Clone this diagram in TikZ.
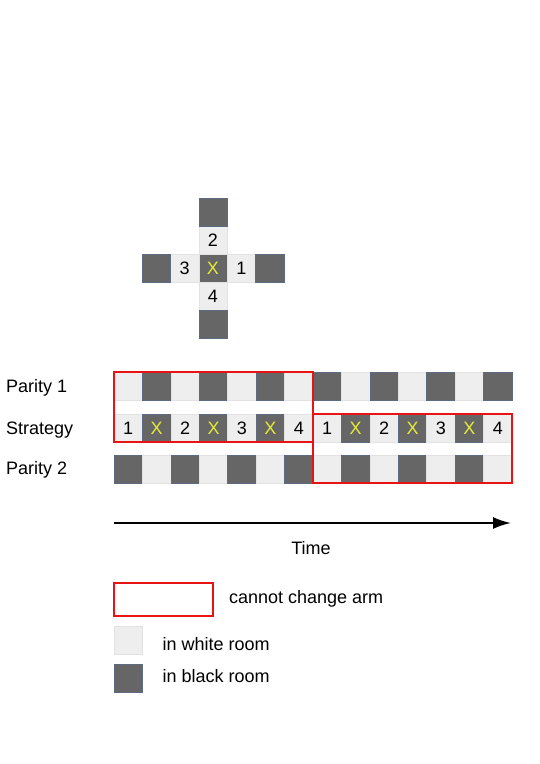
\documentclass[tikz,border=0pt]{standalone}
\usepackage{fontspec}
\setmainfont{Liberation Sans}
\usetikzlibrary{arrows.meta,positioning,fit}

\definecolor{roomdark}{HTML}{666666}
\definecolor{roomedge}{HTML}{5E6A82}
\definecolor{roomwhite}{HTML}{EEEEEE}
\definecolor{whiteedge}{HTML}{E2E2E2}
\definecolor{xyellow}{RGB}{228,236,52}
\definecolor{lockred}{RGB}{232,20,20}

\begin{document}
\begin{tikzpicture}[
  x=1pt, y=-1pt,
  font=\fontsize{18}{21}\selectfont,
  wcell/.style={draw=whiteedge, fill=roomwhite, minimum width=28.4pt, minimum height=28pt, inner sep=0pt, outer sep=0pt, line width=0.6pt},
  dcell/.style={draw=roomedge, fill=roomdark, minimum width=28.4pt, minimum height=28pt, inner sep=0pt, outer sep=0pt, line width=0.6pt},
  xmark/.style={text=xyellow},
  lock/.style={draw=lockred, line width=2pt, inner sep=0pt},
  rowname/.style={anchor=west},
  timearrow/.style={-{Latex[length=18pt,width=12pt]}, line width=2pt}
]
\useasboundingbox (0,0) rectangle (540,764);

% the cross of arms round the start room
\node[dcell, xmark] (hub) at (213,268) {X};
\node[wcell, above=0pt of hub] (arm2) {2};
\node[dcell, above=0pt of arm2] (top) {};
\node[wcell, below=0pt of hub] (arm4) {4};
\node[dcell, below=0pt of arm4] (bottom) {};
\node[wcell, left=0pt of hub] (arm3) {3};
\node[dcell, left=0pt of arm3] (leftend) {};
\node[wcell, right=0pt of hub] (arm1) {1};
\node[dcell, right=0pt of arm1] (rightend) {};

% rows
\node[rowname] (par1) at (2.5,388) {Parity 1};
\node[rowname] (strat) at (2.5,430) {Strategy};
\node[rowname] (par2) at (2.5,470) {Parity 2};

\foreach \i [evaluate=\i as \cx using 114+28.43*(\i-0.5)] in {1,...,14} {
  \ifodd\i
    \node[wcell] (p1-\i) at (\cx,386) {};
    \node[dcell] (p2-\i) at (\cx,469) {};
  \else
    \node[dcell] (p1-\i) at (\cx,386) {};
    \node[wcell] (p2-\i) at (\cx,469) {};
  \fi
}
\foreach \i/\t [evaluate=\i as \cx using 114+28.43*(\i-0.5)] in
    {1/1,2/X,3/2,4/X,5/3,6/X,7/4,8/1,9/X,10/2,11/X,12/3,13/X,14/4} {
  \if X\t
    \node[dcell, xmark] (st-\i) at (\cx,428) {\t};
  \else
    \node[wcell] (st-\i) at (\cx,428) {\t};
  \fi
}

\node[lock, fit=(p1-1)(st-7)] (lockA) {};
\node[lock, fit=(st-8)(p2-14)] (lockB) {};

% time axis
\coordinate (t0) at (114,523);
\coordinate (t1) at (511,523);
\draw[timearrow] (t0) -- (t1);
\node (time) at (311,548) {Time};

% legend
\node[lock, minimum width=99pt, minimum height=33pt] (keylock) at (163,599) {};
\node[right=12pt of keylock] (keylocktxt) {cannot change arm};
\node[wcell] (keywhite) at (128,640) {};
\node[right=17pt of keywhite, yshift=-4pt] (keywhitetxt) {in white room};
\node[dcell] (keydark) at (128,678) {};
\node[right=17pt of keydark, yshift=2pt] (keydarktxt) {in black room};

\end{tikzpicture}
\end{document}
